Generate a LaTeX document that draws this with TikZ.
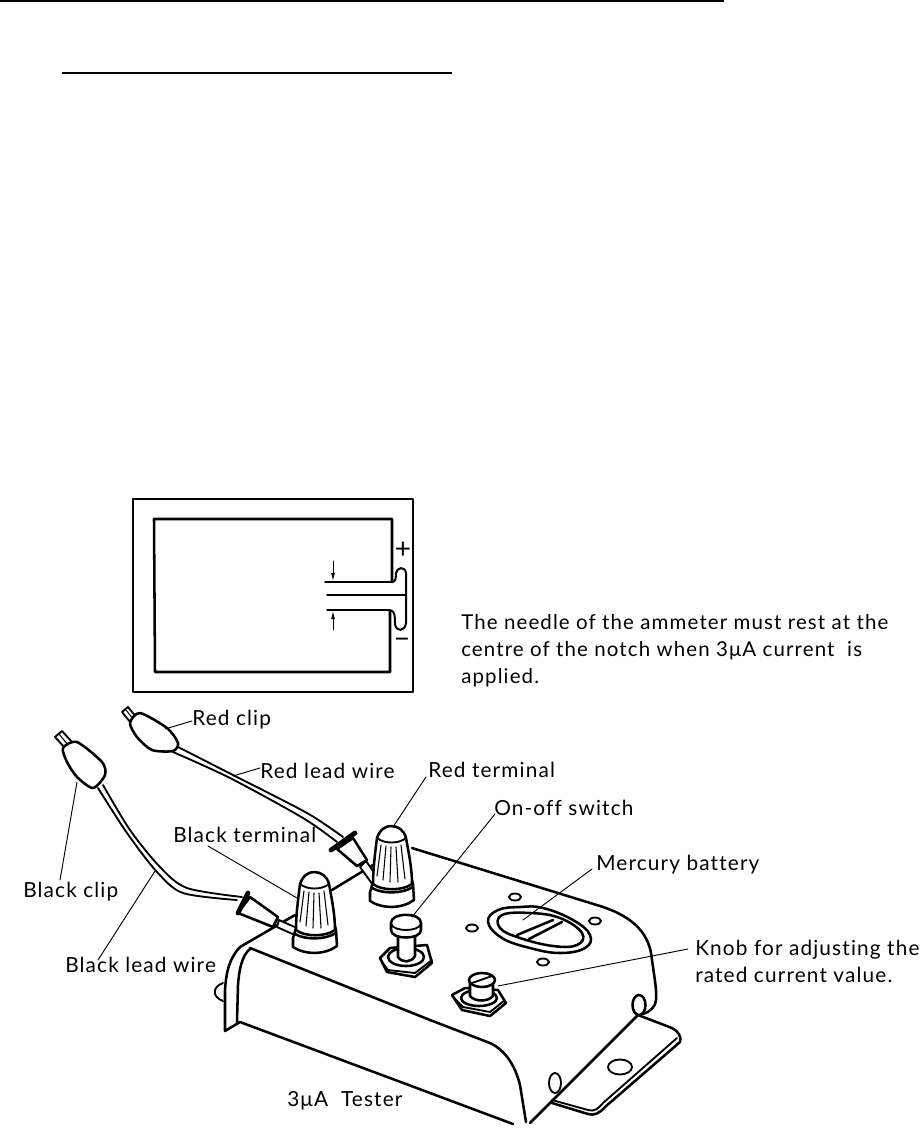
\documentclass[tikz,border=0pt]{standalone}
\usepackage{fontspec}
\usetikzlibrary{arrows.meta}
\setmainfont[LetterSpace=5.5,Ligatures={NoCommon,NoContextual}]{Lato}
\begin{document}
\begin{tikzpicture}[x=0.75pt,y=-0.75pt,
  line cap=round,line join=round,
  ln/.style={line width=1.9pt},
  thn/.style={line width=1.4pt},
  leader/.style={line width=0.7pt},
  lbl/.style={anchor=base west,inner sep=0pt,font=\fontsize{15.6}{20.25}\selectfont},
  terminal/.pic={
    % base
    \draw[ln,fill=white] (296,928) -- (293,938) -- (293,947) .. controls (305,955) and (325,955) .. (337,946) -- (336,930) -- (335,926) -- cycle;
    % cone
    \draw[ln,fill=white] (300,884) .. controls (303,875) and (309,872) .. (314,872) .. controls (321,872) and (327,876) .. (329,884)
      .. controls (332,900) and (335,915) .. (335,930) .. controls (325,937) and (305,937) .. (296,930) .. controls (296,915) and (298,900) .. (300,884);
    \draw[thn] (300,884) .. controls (307,890) and (322,890) .. (329,884);
    \draw[ln] (295,934) .. controls (305,940) and (325,940) .. (336,933);
    \foreach \a/\b/\c/\d in {304/891/300/922,309/892/306/926,314/893/313/928,319/893/321/928,324/891/328/925}
      \draw[line width=0.8pt] (\a,\b) -- (\c,\d);
  }]
\useasboundingbox (0,0) rectangle (920,1129);
\fill[white] (0,0) rectangle (920,1129);

% rules
\draw[line width=1.3pt,line cap=butt] (0,1) -- (724,1);
\draw[line width=0.9pt,line cap=butt] (62,73) -- (452,73);

% ammeter scale
\draw[ln] (133,499) rectangle (413,692);
\draw[ln] (392,582) -- (392,519) -- (154,519) -- (155,672) -- (390,672) -- (390,611);
\draw[line width=1.5pt] (392,582) .. controls (396,582) and (396,577) .. (396,573) .. controls (397,567) and (405,566) .. (406,573) -- (406,623) .. controls (405,632) and (396,632) .. (395,624) .. controls (395,616) and (395,611) .. (390,610);
\draw[thn] (325,582) -- (392,582);
\draw[thn] (327,595) -- (406,595);
\draw[thn] (327,610) -- (390,610);
\coordinate (atopS) at (333,561); \coordinate (atopE) at (333,581);
\coordinate (abotS) at (333,630); \coordinate (abotE) at (333,611);
\draw[leader,-{Latex[length=6pt,width=3pt]}] (atopS) -- (atopE);
\draw[leader,-{Latex[length=6pt,width=3pt]}] (abotS) -- (abotE);
\node[inner sep=0pt,font=\fontsize{21}{24}\selectfont] (plus) at (403,550) {+};
\node[inner sep=0pt,font=\fontsize{21}{24}\selectfont] (minus) at (402,643) {−};

\node[lbl,align=left,anchor=north west,font=\fontsize{15.35}{20.25}\selectfont] (para) at (461,614) {The needle of the ammeter must rest at the\\centre of the notch when 3μA current\ \ is\\applied.};

% body
\draw[ln] (240,947) -- (295,915);
\draw[ln] (332,890) -- (373,865);
\draw[ln] (412,848) -- (600,906) .. controls (635,917) and (650,935) .. (652,960) .. controls (654,975) and (657,990) .. (656,1000) .. controls (656,1006) and (650,1012) .. (643,1014);
\draw[ln] (250,948) -- (430,1020) -- (490,1043) .. controls (505,1050) and (515,1065) .. (520,1085) -- (526,1122);
\draw[ln] (240,947) .. controls (228,960) and (226,975) .. (225,990) -- (225,1031) -- (240,1022) -- (513,1124);
\draw[ln] (250,949) .. controls (242,955) and (239,970) .. (238,985) -- (237,1022);
\draw[thn] (223,983) .. controls (212,987) and (212,997) .. (223,1001);
% flange
\draw[ln] (530,1123) -- (638,1015) -- (672,1028) .. controls (678,1031) and (682,1037) .. (680,1042) -- (605,1107) .. controls (600,1113) and (594,1116) .. (588,1114) -- (552,1103);
\draw[thn] (677,1038) -- (603,1103) .. controls (598,1109) and (594,1112) .. (588,1110) -- (552,1100);
\draw[thn] (620,1067) ellipse [x radius=12,y radius=7.5];
\draw[ln,fill=white] (639,1005) ellipse [x radius=6.5,y radius=10];
\draw[thn,fill=white] (555,1083) ellipse [x radius=6,y radius=10];

% holes
\foreach \p in {(515,897),(472,928),(595,921),(543,962)}
  \draw[thn,fill=white] \p ellipse [x radius=6,y radius=3.5];

% battery
\draw[ln] plot[smooth cycle,tension=0.7] coordinates {(488,922) (498,910) (520,907) (543,908) (573,920) (590,935) (585,948) (560,953) (530,948) (502,938)};
\draw[ln] plot[smooth cycle,tension=0.7] coordinates {(502,915) (530,913) (560,918) (582,933) (577,945) (553,946) (520,938) (500,928)};
\draw[ln] (517,935) -- (553,920);
\draw[ln] (529,939) -- (562,922);

% switch
\draw[ln,fill=white] (380,958) -- (390,948) -- (427,945) -- (432,963) -- (415,977) -- (387,972) -- cycle;
\draw[thn] (382,962) -- (388,970) -- (415,973) -- (432,960);
\draw[ln] (406,957) ellipse [x radius=18,y radius=9];
\draw[ln,fill=white] (398,935) -- (398,957) .. controls (402,963) and (411,963) .. (415,956) -- (415,935) -- cycle;
\draw[ln,fill=white] (391,923) .. controls (391,912) and (421,912) .. (421,923) -- (421,930) .. controls (421,940) and (391,940) .. (391,930) -- cycle;
\draw[thn] (391,924) .. controls (394,932) and (418,932) .. (421,924);

% knob
\draw[ln,fill=white] (452,995) -- (465,988) -- (498,990) -- (506,1003) -- (490,1016) -- (462,1010) -- cycle;
\draw[thn] (454,998) -- (463,1007) -- (490,1012) -- (505,1000);
\draw[ln] (479,998) ellipse [x radius=18,y radius=8];
\draw[ln,fill=white] (470,982) -- (470,996) .. controls (475,1002) and (488,1002) .. (493,996) -- (493,982) -- cycle;
\draw[ln,fill=white] (482,980) ellipse [x radius=13,y radius=7];
\draw[thn] (472,983) -- (492,976);

% red clip and wire
\draw[thn,fill=white] (122,712) -- (128,707) -- (137,718) -- (131,723) -- cycle;
\draw[line width=0.8pt] (126,710) -- (134,720);
\draw[ln,fill=white] plot[smooth cycle,tension=0.45] coordinates {(130,723) (140,713) (167,728) (178,743) (173,751) (152,750) (137,737)};
\draw[thn] plot[smooth] coordinates {(178,747) (233,775) (307,813) (343,837)};
\draw[thn] plot[smooth] coordinates {(173,752) (230,778) (303,818) (337,842)};
% black clip and wire
\draw[thn,fill=white] (55,737) -- (62,731) -- (72,742) -- (65,748) -- cycle;
\draw[line width=0.8pt] (59,734) -- (68,745);
\draw[ln,fill=white] plot[smooth cycle,tension=0.45] coordinates {(63,748) (77,742) (102,762) (105,775) (93,788) (77,777) (67,762)};
\draw[thn] plot[smooth] coordinates {(103,785) (130,830) (160,867) (187,888) (242,897)};
\draw[thn] plot[smooth] coordinates {(98,788) (127,833) (157,872) (183,893) (237,900)};

% pins and cones (black)
\draw[thn,fill=white] (277,927) -- (297,936) -- (297,928) -- (279,920) -- cycle;
\draw[ln,fill=white] (250,897) -- (278,917) -- (273,927) -- (238,913) -- cycle;
\draw[line width=3.6pt] (238,913) -- (248,893);
% pins and cones (red)
\draw[thn,fill=white] (360,867) -- (373,885) -- (378,878) -- (366,861) -- cycle;
\draw[ln,fill=white] (353,838) -- (367,860) -- (357,866) -- (337,849) -- cycle;
\draw[line width=3.6pt] (331,850) -- (355,833);

\pic at (0,0) {terminal};
\pic at (77,-46) {terminal};

% labels and leaders
\node[lbl] (lredclip) at (192,725) {Red clip};
\node[lbl] (lredwire) at (260,778) {Red lead wire};
\node[lbl] (lredterm) at (428,777) {Red terminal};
\node[lbl] (lswitch) at (494,815) {On-off switch};
\node[lbl] (lbatt) at (596,870) {Mercury battery};
\node[lbl] (lblkterm) at (173,842) {Black terminal};
\node[lbl] (lblkclip) at (23,897) {Black clip};
\node[lbl] (lblkwire) at (65,972) {Black lead wire};
\node[lbl,align=left,anchor=north west] (lknob) at (695,939.5) {Knob for adjusting the\\rated current value.};
\node[lbl] (ltester) at (287,1106) {3μA\ \ Tester};

\coordinate (a1) at (192,721); \coordinate (b1) at (165,729);
\coordinate (a2) at (260,768); \coordinate (b2) at (233,776);
\coordinate (a3) at (426,777); \coordinate (b3) at (393,827);
\coordinate (a4) at (495,814); \coordinate (b4) at (412,917);
\coordinate (a5) at (592,869); \coordinate (b5) at (523,920);
\coordinate (a6) at (208,846); \coordinate (b6) at (297,898);
\coordinate (a7) at (77,782); \coordinate (b7) at (60,880);
\coordinate (a8) at (155,871); \coordinate (b8) at (98,960);
\coordinate (a9) at (688,949); \coordinate (b9) at (498,986);
\foreach \i in {1,...,9} \draw[leader] (a\i) -- (b\i);
\end{tikzpicture}
\end{document}
